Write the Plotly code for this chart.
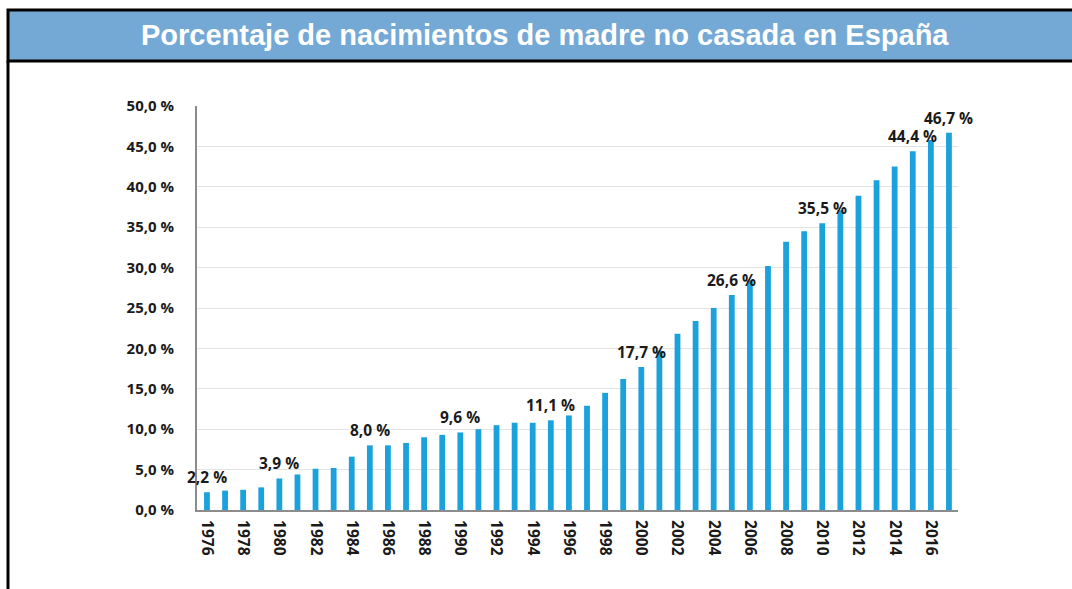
import plotly.graph_objects as go

# ---- data ----
years = list(range(1976, 2018))
values = [2.2, 2.4, 2.5, 2.8, 3.9, 4.4, 5.1, 5.2, 6.6, 8.0,
          8.0, 8.3, 9.0, 9.3, 9.6, 10.0, 10.5, 10.8, 10.8, 11.1,
          11.7, 12.9, 14.5, 16.2, 17.7, 19.7, 21.8, 23.4, 25.0, 26.6,
          28.4, 30.2, 33.2, 34.5, 35.5, 37.1, 38.9, 40.8, 42.5, 44.4,
          45.8, 46.7]
label_years = [1976, 1980, 1985, 1990, 1995, 2000, 2005, 2010, 2015, 2017]
x_tick_years = list(range(1976, 2017, 2))
x_tick_labels = [str(y) for y in x_tick_years]
y_tick_vals = [0, 5, 10, 15, 20, 25, 30, 35, 40, 45, 50]
y_tick_labels = ["0,0 %", "5,0 %", "10,0 %", "15,0 %", "20,0 %", "25,0 %",
                 "30,0 %", "35,0 %", "40,0 %", "45,0 %", "50,0 %"]
title_text = "Porcentaje de nacimientos de madre no casada en España"

# ---- layout geometry (pixels) ----
W, H = 1072, 589
PL, PR, PT, PB = 197, 958, 106, 510  # plot area edges


def px(xp):
    return (xp - PL) / (PR - PL)


def py(yp):
    return (PB - yp) / (PB - PT)


BAR_COLOR = "#1BA1DC"
FONT = "Open Sans"

fig = go.Figure()
fig.add_trace(go.Bar(
    x=years, y=values, width=0.32,
    marker=dict(color=BAR_COLOR, line=dict(width=0)),
    hoverinfo="x+y",
))

annotations = []
for yr in label_years:
    v = values[years.index(yr)]
    annotations.append(dict(
        x=yr, y=v, xref="x", yref="y",
        text=f"{v:.1f}".replace(".", ",") + " %",
        showarrow=False, yanchor="middle", xanchor="center", yshift=15,
        font=dict(family=FONT, size=15.5, color="#1a1a1a", weight="bold"),
    ))

# title
annotations.append(dict(
    x=px(545), y=py(35), xref="paper", yref="paper",
    text=title_text, showarrow=False, xanchor="center", yanchor="middle",
    font=dict(family="Liberation Sans, Arial", size=29, color="white", weight="bold"),
))

shapes = [
    # banner
    dict(type="rect", xref="paper", yref="paper",
         x0=px(8), x1=px(1090), y0=py(10), y1=py(61),
         fillcolor="#75A9D5", line=dict(color="black", width=3), layer="below"),
    # left frame line
    dict(type="line", xref="paper", yref="paper",
         x0=px(8), x1=px(8), y0=py(61), y1=py(600),
         line=dict(color="black", width=3)),
]

fig.update_layout(
    width=W, height=H,
    margin=dict(l=PL, r=W - PR, t=PT, b=H - PB, pad=0),
    paper_bgcolor="white", plot_bgcolor="white",
    showlegend=False,
    annotations=annotations,
    shapes=shapes,
    xaxis=dict(
        range=[1975.45, 2017.5],
        tickvals=x_tick_years, ticktext=x_tick_labels,
        tickangle=90,
        tickfont=dict(family=FONT, size=15.5, color="#1a1a1a", weight="bold"),
        showgrid=False, zeroline=False,
        showline=True, linecolor="#8c8c8c", linewidth=2,
        ticks="", ticklabelstandoff=5,
    ),
    yaxis=dict(
        range=[0, 50],
        tickvals=y_tick_vals, ticktext=y_tick_labels,
        tickfont=dict(family=FONT, size=15, color="#1a1a1a", weight="bold"),
        showgrid=True, gridcolor="#e3e3e3", gridwidth=1,
        zeroline=False,
        showline=True, linecolor="#8c8c8c", linewidth=2,
        ticks="", ticklabelstandoff=18,
    ),
)

fig.write_html("out.html", config={"displayModeBar": False},
               post_script="document.body.style.margin='0';")
